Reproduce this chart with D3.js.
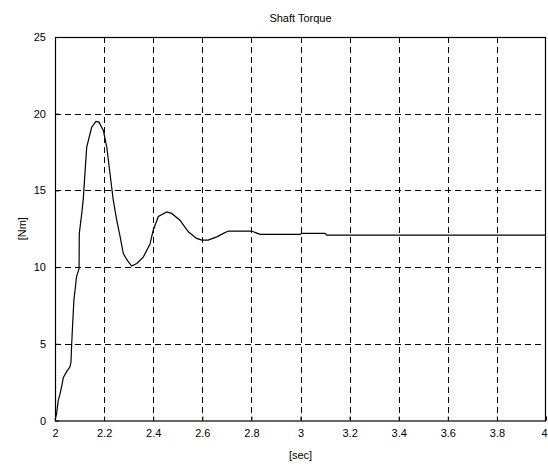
<!DOCTYPE html>
<html><head><meta charset="utf-8">
<script src="https://cdn.jsdelivr.net/npm/d3@7"></script>
<style>body{margin:0;background:#fff;} text{font-family:"Liberation Sans",Arial,sans-serif;font-size:11px;fill:#000;}</style>
</head><body><svg id="c" width="548" height="466"></svg>
<script>
const title = "Shaft Torque";
const xLabel = "[sec]";
const yLabel = "[Nm]";
const xTicks = [2, 2.2, 2.4, 2.6, 2.8, 3, 3.2, 3.4, 3.6, 3.8, 4];
const yTicks = [0, 5, 10, 15, 20, 25];
const time = [2.000, 2.003, 2.007, 2.013, 2.020, 2.027, 2.034, 2.048, 2.061, 2.065, 2.068, 2.072, 2.077, 2.088, 2.098, 2.099, 2.109, 2.115, 2.129, 2.149, 2.167, 2.179, 2.197, 2.211, 2.224, 2.237, 2.251, 2.265, 2.278, 2.292, 2.312, 2.333, 2.360, 2.387, 2.400, 2.421, 2.455, 2.475, 2.509, 2.543, 2.577, 2.598, 2.624, 2.659, 2.686, 2.706, 2.801, 2.835, 2.998, 3.005, 3.100, 3.107, 4.000];
const torque = [0.0, 0.2, 0.5, 1.3, 1.7, 2.2, 2.8, 3.2, 3.5, 3.8, 5.0, 6.3, 7.85, 9.4, 9.9, 12.2, 13.5, 14.4, 17.8, 19.1, 19.5, 19.45, 18.9, 17.8, 16.1, 14.4, 13.1, 12.0, 10.9, 10.5, 10.07, 10.24, 10.67, 11.5, 12.4, 13.3, 13.6, 13.5, 13.06, 12.3, 11.87, 11.76, 11.76, 11.97, 12.2, 12.35, 12.35, 12.13, 12.13, 12.2, 12.2, 12.08, 12.08];

const svg = d3.select("#c");
const L = 55, R = 546, T = 37, B = 420.5;
const x = d3.scaleLinear().domain([2, 4]).range([L, R]);
const y = d3.scaleLinear().domain([0, 25]).range([B, T]);

// grid
const g = svg.append("g");
g.selectAll(".vx").data(xTicks.slice(1, -1)).enter().append("line")
  .attr("x1", d => Math.round(x(d)) + 0.5).attr("x2", d => Math.round(x(d)) + 0.5)
  .attr("y1", T).attr("y2", B)
  .attr("stroke", "#000").attr("stroke-width", 1).attr("stroke-dasharray", "6,4");
g.selectAll(".hy").data(yTicks.slice(1, -1)).enter().append("line")
  .attr("y1", d => Math.round(y(d)) + 0.5).attr("y2", d => Math.round(y(d)) + 0.5)
  .attr("x1", L).attr("x2", R)
  .attr("stroke", "#000").attr("stroke-width", 1).attr("stroke-dasharray", "6,4");

// axes with inward ticks
const xa = svg.append("g").attr("transform", `translate(0,${B})`)
  .call(d3.axisBottom(x).tickValues(xTicks).tickFormat(d3.format("")).tickSizeInner(-4).tickSizeOuter(0).tickPadding(9));
const ya = svg.append("g").attr("transform", `translate(${L},0)`)
  .call(d3.axisLeft(y).tickValues(yTicks).tickFormat(d3.format("")).tickSizeInner(-4).tickSizeOuter(0).tickPadding(9));
[xa, ya].forEach(a => {
  a.selectAll("path").remove();
  a.selectAll("line").attr("stroke", "#000");
  a.selectAll("text").style("font-family", "Liberation Sans, Arial, sans-serif").style("font-size", "11px").attr("fill", "#000");
});
// keep the last x label inside the window
xa.selectAll(".tick").filter(d => d === 4).select("text").attr("dx", -2);

// box
svg.append("rect").attr("x", L + 0.5).attr("y", T + 0.5).attr("width", R - L - 1).attr("height", B - T)
  .attr("fill", "none").attr("stroke", "#000").attr("stroke-width", 1.2);

// data line
const line = d3.line().x((d, i) => x(time[i])).y(d => y(d));
svg.append("path").datum(torque).attr("d", line)
  .attr("fill", "none").attr("stroke", "#000").attr("stroke-width", 1.2);

// labels
svg.append("text").attr("x", (L + R) / 2).attr("y", 22).attr("text-anchor", "middle").text(title);
svg.append("text").attr("x", (L + R) / 2).attr("y", 459).attr("text-anchor", "middle").text(xLabel);
svg.append("text").attr("transform", `translate(26,${(T + B) / 2}) rotate(-90)`).attr("text-anchor", "middle").text(yLabel);
</script></body></html>
